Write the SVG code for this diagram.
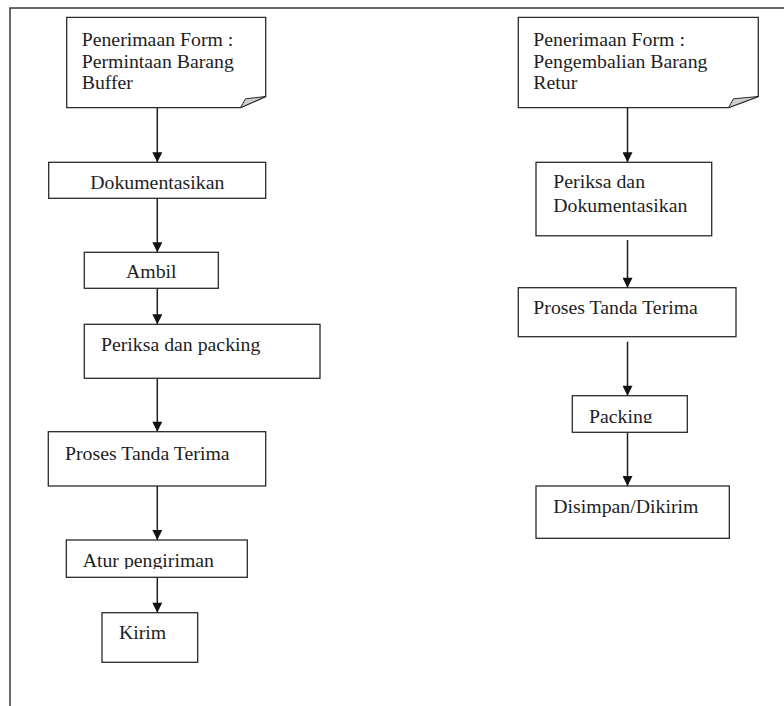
<svg xmlns="http://www.w3.org/2000/svg" width="784" height="706" viewBox="0 0 784 706">
<style>
.box{fill:#fff;stroke:#2a2a2a;stroke-width:1.3}
.fold{fill:#cfcfcf;stroke:#2a2a2a;stroke-width:1}
.t{font-family:"Liberation Serif","Times New Roman",serif;font-size:19.8px;fill:#1e1e1e}
.c{text-anchor:middle}
.edge{stroke:#1e1e1e;stroke-width:1.5;fill:none;marker-end:url(#ah)}
.frame{stroke:#3a3a3a;stroke-width:1.5;fill:none}
</style>
<defs>
<marker id="ah" viewBox="0 0 10 10" refX="10" refY="5" markerWidth="12" markerHeight="10" markerUnits="userSpaceOnUse" orient="auto">
<path d="M0,0 L10,5 L0,10 z" fill="#111"/>
</marker>
<clipPath id="clipAtur"><rect x="66" y="540" width="182" height="29"/></clipPath>
<clipPath id="clipPack"><rect x="572" y="396" width="116" height="27"/></clipPath>
</defs>
<rect width="784" height="706" fill="#fff"/>
<path class="frame" d="M10,706 L10,8 L784,8"/>

<g id="connectors">
<line class="edge" x1="157.3" y1="108" x2="157.3" y2="162.3"/>
<line class="edge" x1="157.3" y1="198.3" x2="157.3" y2="252.3"/>
<line class="edge" x1="157.3" y1="288.3" x2="157.3" y2="324.3"/>
<line class="edge" x1="157.3" y1="378.3" x2="157.3" y2="431.7"/>
<line class="edge" x1="157.3" y1="486" x2="157.3" y2="540"/>
<line class="edge" x1="157.3" y1="577.3" x2="157.3" y2="612.7"/>
<line class="edge" x1="627.5" y1="108" x2="627.5" y2="162.3"/>
<line class="edge" x1="627.5" y1="240" x2="627.5" y2="287.7"/>
<line class="edge" x1="627.5" y1="341.7" x2="627.5" y2="395.7"/>
<line class="edge" x1="627.5" y1="432.3" x2="627.5" y2="486"/>
</g>

<g id="doc-left">
<path class="box" d="M66.7,17.3 H265.7 V96.5 L240.5,107.7 H66.7 Z"/>
<path class="fold" d="M265.7,96.5 L240.5,107.7 L245.5,98.8 Z"/>
<text class="t" x="81.7" y="46">Penerimaan Form :</text>
<text class="t" x="81.7" y="67.5">Permintaan Barang</text>
<text class="t" x="81.7" y="89">Buffer</text>
</g>
<g id="dokumentasikan">
<rect class="box" x="48.7" y="162.3" width="217" height="36"/>
<text class="t c" x="157.3" y="189">Dokumentasikan</text>
</g>
<g id="ambil">
<rect class="box" x="84.3" y="252.3" width="134" height="36"/>
<text class="t c" x="151.3" y="278.3">Ambil</text>
</g>
<g id="periksa-packing">
<rect class="box" x="84.3" y="324.3" width="235.7" height="54"/>
<text class="t" x="101" y="350.7">Periksa dan packing</text>
</g>
<g id="proses-left">
<rect class="box" x="48.3" y="431.7" width="217.4" height="54.3"/>
<text class="t" x="65" y="460">Proses Tanda Terima</text>
</g>
<g id="atur">
<rect class="box" x="66.3" y="540" width="181" height="37.3"/>
<text class="t" x="82.7" y="567.3" clip-path="url(#clipAtur)">Atur pengiriman</text>
</g>
<g id="kirim">
<rect class="box" x="102" y="612.7" width="95.7" height="49.6"/>
<text class="t" x="119" y="639">Kirim</text>
</g>

<g id="doc-right">
<path class="box" d="M518.3,17.3 H758.3 V96.5 L728.5,107.7 H518.3 Z"/>
<path class="fold" d="M758.3,96.5 L728.5,107.7 L733.5,98.8 Z"/>
<text class="t" x="533.3" y="46">Penerimaan Form :</text>
<text class="t" x="533.3" y="67.5">Pengembalian Barang</text>
<text class="t" x="533.3" y="89">Retur</text>
</g>
<g id="periksa-dok">
<rect class="box" x="536" y="162.3" width="175.7" height="73.5"/>
<text class="t" x="553.3" y="188.3">Periksa dan</text>
<text class="t" x="553.3" y="211.7">Dokumentasikan</text>
</g>
<g id="proses-right">
<rect class="box" x="518.3" y="287.7" width="217.7" height="49"/>
<text class="t" x="533.3" y="314">Proses Tanda Terima</text>
</g>
<g id="packing">
<rect class="box" x="572.3" y="395.7" width="115" height="36.6"/>
<text class="t" x="589" y="422.5" clip-path="url(#clipPack)">Packing</text>
</g>
<g id="disimpan">
<rect class="box" x="536" y="486" width="193.3" height="52.3"/>
<text class="t" x="553.3" y="513.3">Disimpan/Dikirim</text>
</g>
</svg>
